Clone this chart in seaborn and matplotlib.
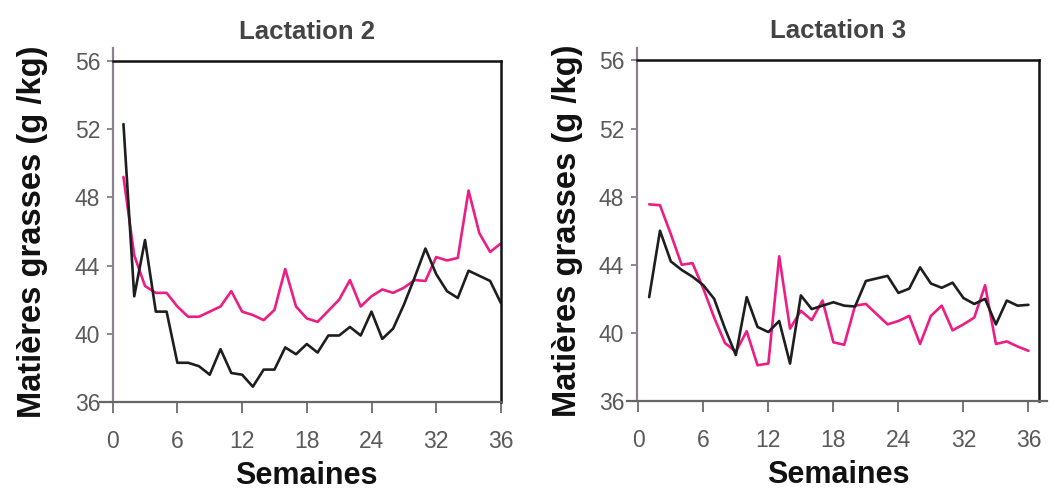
import numpy as np
import pandas as pd
import matplotlib
matplotlib.use("Agg")
import matplotlib.pyplot as plt
import seaborn as sns

# Semaines de lactation
semaines = list(range(1, 37))

# Lactation 2 : taux de matières grasses (g/kg)
lact2_noir = [52.3, 42.2, 45.5, 41.3, 41.3, 38.3, 38.3, 38.1, 37.6, 39.1, 37.7, 37.6,
              36.9, 37.9, 37.9, 39.2, 38.8, 39.4, 38.9, 39.9, 39.9, 40.4, 39.9, 41.3,
              39.7, 40.3, 41.7, 43.3, 45.0, 43.5, 42.5, 42.1, 43.7, 43.4, 43.1, 41.8]
lact2_rose = [49.2, 44.6, 42.8, 42.4, 42.4, 41.6, 41.0, 41.0, 41.3, 41.6, 42.5, 41.3,
              41.1, 40.8, 41.4, 43.8, 41.6, 40.9, 40.7, 41.35, 42.0, 43.15, 41.6, 42.2,
              42.6, 42.4, 42.7, 43.15, 43.1, 44.5, 44.3, 44.45, 48.4, 45.9, 44.8, 45.3]

# Lactation 3
lact3_noir = [42.1, 46.0, 44.2, 43.7, 43.3, 42.8, 42.0, 40.25, 38.7, 42.1, 40.35, 40.05,
              40.7, 38.2, 42.2, 41.4, 41.6, 41.8, 41.6, 41.55, 43.05, 43.2, 43.35, 42.35,
              42.6, 43.85, 42.9, 42.65, 42.95, 42.05, 41.7, 42.0, 40.5, 41.9, 41.6, 41.65]
lact3_rose = [47.55, 47.5, 45.8, 44.0, 44.1, 42.6, 40.9, 39.4, 38.9, 40.1, 38.1, 38.2,
              44.5, 40.25, 41.3, 40.75, 41.9, 39.45, 39.3, 41.6, 41.7, 41.1, 40.5, 40.7,
              41.0, 39.35, 41.0, 41.6, 40.15, 40.5, 40.9, 42.8, 39.35, 39.5, 39.2, 38.95]

# Graduations
xticks = [0, 6, 12, 18, 24, 30, 36]
xtick_labels = ["0", "6", "12", "18", "24", "32", "36"]
yticks = [36, 40, 44, 48, 52, 56]

titres = ["Lactation 2", "Lactation 3"]
series = [(lact2_noir, lact2_rose), (lact3_noir, lact3_rose)]

sns.set_theme(style="white")
plt.rcParams["font.family"] = ["Liberation Sans", "DejaVu Sans"]

fig = plt.figure(figsize=(10.55, 4.93), dpi=100)
ax_rects = [
    [0.1068, 0.1846, 0.3680, 0.6917],
    [0.6035, 0.1866, 0.3816, 0.6907],
]
xlims = [(0, 36), (-0.15, 37.0)]
ylabel_pads = [19, 11]
palette = {"noir": "#1e1e1e", "rose": "#ec1d84"}

for k in range(2):
    ax = fig.add_axes(ax_rects[k])
    noir, rose = series[k]
    df = pd.DataFrame({
        "semaine": semaines * 2,
        "mg": noir + rose,
        "groupe": ["noir"] * len(noir) + ["rose"] * len(rose),
    })
    sns.lineplot(data=df, x="semaine", y="mg", hue="groupe", palette=palette,
                 hue_order=["rose", "noir"], linewidth=1.9, legend=False, ax=ax,
                 estimator=None, sort=False)
    ax.set_xlim(*xlims[k])
    ax.set_ylim(36, 56)
    ax.set_xticks(xticks)
    ax.set_xticklabels(xtick_labels)
    ax.set_yticks(yticks)
    ax.tick_params(axis="x", direction="out", length=8, width=1.4, color="#777777",
                   labelsize=16.5, labelcolor="#5a5a5a", pad=12, bottom=True)
    ax.tick_params(axis="y", direction="out", length=4, width=1.2, color="#777777",
                   labelsize=16.5, labelcolor="#5a5a5a", pad=5, left=True)
    ax.grid(False)

    # Cadre : axes gris prolongés, bords haut/droite noirs
    for side in ("top", "right"):
        ax.spines[side].set_color("#111111")
        ax.spines[side].set_linewidth(1.8)
    ax.spines["left"].set_color("#8a8090")
    ax.spines["left"].set_linewidth(1.6)
    ax.spines["bottom"].set_color("#666666")
    ax.spines["bottom"].set_linewidth(1.6)
    ax.spines["left"].set_bounds(36, 56.75)
    if k == 0:
        ax.spines["bottom"].set_bounds(-1.2, 36)
    else:
        ax.spines["bottom"].set_bounds(-1.0, 37.7)

    ax.set_title(titres[k], fontsize=18.5, fontweight="bold", color="#444444", pad=16)
    ax.set_xlabel("Semaines", fontsize=22, fontweight="bold", color="#111111", labelpad=6)
    ax.set_ylabel("Matières grasses (g /kg)", fontsize=23.5, fontweight="bold",
                  color="#111111", labelpad=ylabel_pads[k])

fig.savefig("out.png", dpi=100, facecolor="white")
